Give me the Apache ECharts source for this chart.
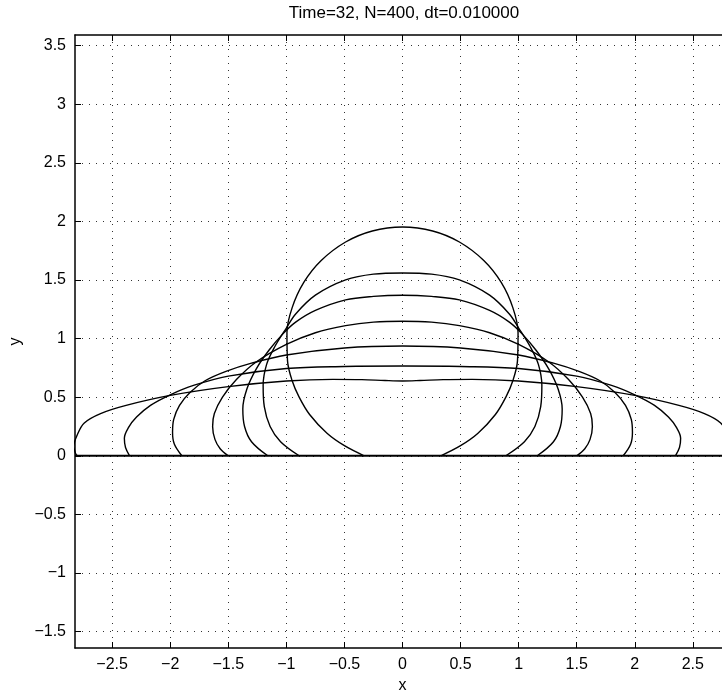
<!DOCTYPE html>
<html>
<head>
<meta charset="utf-8">
<script src="https://cdn.jsdelivr.net/npm/echarts@6/dist/echarts.min.js"></script>
<style>
  html, body { margin: 0; padding: 0; background: #fff; }
  #chart { width: 722px; height: 690px; }
</style>
</head>
<body>
<div id="chart"></div>
<script>
// Spreading drop: interface shape at successive output times.
const titleText = 'Time=32, N=400, dt=0.010000';
const xTicks = [-2.5, -2, -1.5, -1, -0.5, 0, 0.5, 1, 1.5, 2, 2.5];
const yTicks = [-1.5, -1, -0.5, 0, 0.5, 1, 1.5, 2, 2.5, 3, 3.5];
const xRange = [-2.82, 2.82];
const yRange = [-1.64, 3.59];

// Right halves of each interface, from the apex (x = 0) down to the contact point.
const profile1 = [[0, 1.952], [0.26, 1.918], [0.49, 1.824], [0.7, 1.666], [0.85, 1.479], [0.95, 1.264],
  [0.995, 1.05], [0.99, 0.81], [0.95, 0.64], [0.89, 0.5], [0.8, 0.352], [0.65, 0.192], [0.5, 0.086], [0.33, 0]];
const profile2 = [[0, 1.56], [0.25, 1.55], [0.49, 1.5], [0.75, 1.37], [0.92, 1.21], [1.0, 1.09], [1.1, 0.93],
  [1.17, 0.78], [1.2, 0.6], [1.19, 0.42], [1.14, 0.25], [1.05, 0.12], [0.89, 0]];
const profile3 = [[0, 1.37], [0.25, 1.36], [0.49, 1.33], [0.75, 1.24], [0.92, 1.14], [1.03, 1.04], [1.15, 0.9],
  [1.26, 0.74], [1.34, 0.57], [1.375, 0.4], [1.36, 0.25], [1.3, 0.12], [1.16, 0]];
const profile4 = [[0, 1.148], [0.25, 1.14], [0.49, 1.11], [0.75, 1.05], [1.0, 0.95], [1.26, 0.8], [1.43, 0.65],
  [1.55, 0.5], [1.62, 0.36], [1.635, 0.25], [1.615, 0.14], [1.57, 0.06], [1.5, 0]];
const profile5 = [[0, 0.937], [0.5, 0.92], [1.0, 0.86], [1.3, 0.79], [1.52, 0.72], [1.7, 0.64], [1.83, 0.54],
  [1.92, 0.43], [1.97, 0.31], [1.98, 0.2], [1.965, 0.1], [1.9, 0]];
const profile6 = [[0, 0.766], [0.5, 0.762], [1.0, 0.745], [1.5, 0.68], [1.8, 0.6], [2.0, 0.52], [2.17, 0.43],
  [2.29, 0.33], [2.36, 0.24], [2.395, 0.15], [2.385, 0.07], [2.35, 0]];
const profile7 = [[0, 0.638], [0.15, 0.642], [0.35, 0.65], [0.6, 0.652], [1.0, 0.638], [1.5, 0.59], [2.0, 0.515],
  [2.38, 0.43], [2.6, 0.36], [2.74, 0.28], [2.8, 0.18], [2.83, 0.08], [2.815, 0.02], [2.8, 0]];
const substrate = [[-2.82, 0], [2.82, 0]];

const profiles = [profile1, profile2, profile3, profile4, profile5, profile6, profile7];

// The drop is symmetric about x = 0: build the left half from the right one.
function fullInterface(half) {
  const left = half.slice(1).reverse().map(([x, y]) => [-x, y]);
  return left.concat(half);
}

const font = "'Liberation Sans', Arial, Helvetica, sans-serif";
const minusFmt = v => String(v).replace('-', '\u2212');

const chart = echarts.init(document.getElementById('chart'), null, { renderer: 'canvas' });

const dotted = { color: '#333', width: 1, type: [1, 6] };

chart.setOption({
  animation: false,
  backgroundColor: '#fff',
  grid: { left: 75, right: -8, top: 35, bottom: 42, containLabel: false, outerBoundsMode: 'none' },
  graphic: [{
    type: 'text', x: 404, y: 5, silent: true,
    style: { text: titleText, fill: '#000', font: '17px ' + font, textAlign: 'center', textVerticalAlign: 'top' }
  }],
  xAxis: [{
    type: 'value', min: xRange[0], max: xRange[1], position: 'bottom',
    name: 'x', nameLocation: 'middle', nameGap: 24,
    nameTextStyle: { color: '#000', fontSize: 16, fontFamily: font },
    axisLine: { show: true, onZero: false, lineStyle: { color: '#000', width: 1.5 } },
    axisTick: { show: true, inside: true, length: 6, customValues: xTicks, lineStyle: { color: '#000', width: 1 } },
    axisLabel: { customValues: xTicks, formatter: minusFmt, color: '#000', fontSize: 16, fontFamily: font, margin: 9 },
    splitLine: { show: true, lineStyle: dotted }
  }, {
    type: 'value', min: xRange[0], max: xRange[1], position: 'top',
    axisLine: { show: true, onZero: false, lineStyle: { color: '#000', width: 1.5 } },
    axisTick: { show: true, inside: true, length: 6, customValues: xTicks, lineStyle: { color: '#000', width: 1 } },
    axisLabel: { show: false },
    splitLine: { show: false }
  }],
  yAxis: [{
    type: 'value', min: yRange[0], max: yRange[1], position: 'left',
    name: 'y', nameLocation: 'middle', nameGap: 46, nameRotate: 90,
    nameTextStyle: { color: '#000', fontSize: 16, fontFamily: font },
    axisLine: { show: true, onZero: false, lineStyle: { color: '#000', width: 1.5 } },
    axisTick: { show: true, inside: true, length: 6, customValues: yTicks, lineStyle: { color: '#000', width: 1 } },
    axisLabel: { customValues: yTicks, formatter: minusFmt, color: '#000', fontSize: 16, fontFamily: font, margin: 9 },
    splitLine: { show: true, lineStyle: dotted }
  }],
  series: profiles.map((half, i) => ({
    name: 'interface ' + (i + 1),
    type: 'line',
    data: fullInterface(half),
    showSymbol: false,
    symbol: 'none',
    smooth: 0.35,
    clip: true,
    lineStyle: { color: '#000', width: 1.4 },
    z: 3
  })).concat([{
    name: 'substrate',
    type: 'line',
    data: substrate,
    symbol: 'none',
    lineStyle: { color: '#000', width: 2 },
    z: 4
  }])
});
</script>
</body>
</html>
